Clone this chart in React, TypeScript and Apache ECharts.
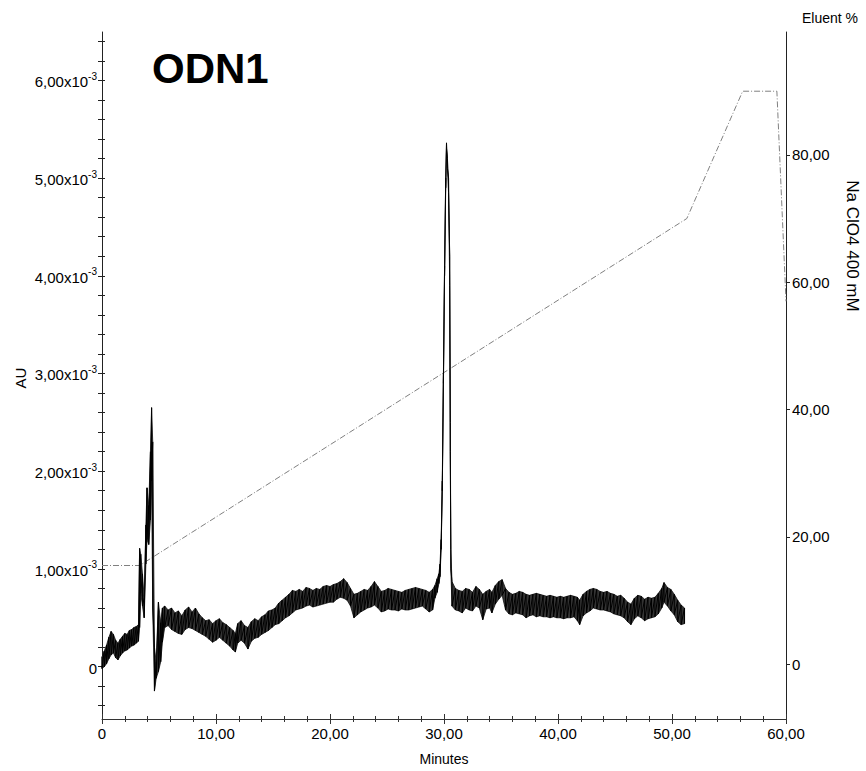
import React, { useEffect, useRef } from "react";
import * as echarts from "echarts";

const FONT = "'Liberation Sans', Arial, sans-serif";

// Absorbance trace: [minutes, upper envelope, lower envelope] in 10^-3 AU
const trace: [number, number, number][] = [
  [0.0, 0.10, -0.02], [0.2, 0.16, 0.0], [0.4, 0.22, 0.03], [0.6, 0.30, 0.08], [0.8, 0.36, 0.12],
  [1.0, 0.33, 0.14], [1.2, 0.27, 0.09], [1.4, 0.24, 0.07], [1.6, 0.28, 0.11], [1.8, 0.31, 0.14],
  [2.0, 0.34, 0.16], [2.2, 0.33, 0.17], [2.4, 0.37, 0.19], [2.6, 0.38, 0.21], [2.8, 0.40, 0.22],
  [3.0, 0.41, 0.24], [3.2, 0.43, 0.26],
  [3.3, 1.21, 0.40], [3.4, 1.15, 0.75], [3.55, 0.95, 0.62], [3.7, 0.70, 0.50], [3.85, 1.45, 1.05],
  [3.95, 1.83, 1.30], [4.1, 1.65, 1.25], [4.25, 2.20, 1.50], [4.35, 2.65, 1.90], [4.45, 2.30, 0.60],
  [4.6, 0.20, -0.25], [4.75, 0.05, -0.12], [4.95, 0.66, -0.05], [5.15, 0.45, 0.05], [5.3, 0.60, 0.25],
  [5.5, 0.62, 0.40], [5.8, 0.58, 0.42], [6.1, 0.60, 0.38], [6.4, 0.55, 0.36], [6.7, 0.57, 0.34],
  [7.0, 0.52, 0.33], [7.3, 0.58, 0.38], [7.6, 0.61, 0.40], [7.9, 0.56, 0.39], [8.2, 0.60, 0.37],
  [8.5, 0.54, 0.35], [8.8, 0.50, 0.33], [9.1, 0.47, 0.31], [9.4, 0.48, 0.28], [9.7, 0.44, 0.25],
  [10.0, 0.47, 0.27], [10.3, 0.49, 0.30], [10.6, 0.45, 0.27], [10.9, 0.43, 0.24], [11.2, 0.40, 0.21],
  [11.5, 0.37, 0.17], [11.7, 0.34, 0.15], [11.9, 0.44, 0.24], [12.2, 0.47, 0.27], [12.5, 0.42, 0.24],
  [12.8, 0.40, 0.18], [13.1, 0.46, 0.26], [13.4, 0.49, 0.29], [13.7, 0.47, 0.30], [14.0, 0.51, 0.33],
  [14.3, 0.53, 0.35], [14.6, 0.57, 0.37], [14.9, 0.58, 0.40], [15.2, 0.60, 0.43], [15.5, 0.65, 0.44],
  [15.8, 0.68, 0.47], [16.1, 0.71, 0.50], [16.4, 0.74, 0.52], [16.7, 0.78, 0.55], [17.0, 0.77, 0.58],
  [17.3, 0.79, 0.59], [17.6, 0.77, 0.60], [17.9, 0.81, 0.62], [18.2, 0.80, 0.63], [18.5, 0.78, 0.61],
  [18.8, 0.80, 0.62], [19.1, 0.79, 0.63], [19.4, 0.82, 0.64], [19.7, 0.83, 0.65], [20.0, 0.82, 0.66],
  [20.3, 0.84, 0.66], [20.6, 0.85, 0.69], [20.9, 0.87, 0.71], [21.2, 0.90, 0.70], [21.5, 0.86, 0.68],
  [21.8, 0.80, 0.62], [22.1, 0.74, 0.50], [22.4, 0.75, 0.53], [22.7, 0.77, 0.56], [23.0, 0.79, 0.58],
  [23.3, 0.78, 0.60], [23.6, 0.82, 0.61], [23.9, 0.87, 0.63], [24.2, 0.82, 0.60], [24.5, 0.77, 0.56],
  [24.8, 0.78, 0.57], [25.1, 0.80, 0.59], [25.4, 0.79, 0.58], [25.7, 0.78, 0.58], [26.0, 0.77, 0.57],
  [26.3, 0.76, 0.59], [26.6, 0.78, 0.58], [26.9, 0.79, 0.58], [27.2, 0.80, 0.59], [27.5, 0.81, 0.60],
  [27.8, 0.80, 0.61], [28.1, 0.79, 0.62], [28.4, 0.78, 0.59], [28.7, 0.76, 0.56], [29.0, 0.79, 0.58],
  [29.2, 0.83, 0.70], [29.4, 0.90, 0.76], [29.55, 0.95, 0.85], [29.65, 1.05, 0.92], [29.75, 1.30, 1.20],
  [29.85, 1.90, 1.80], [29.95, 3.00, 2.90], [30.05, 4.10, 4.00], [30.15, 5.00, 4.90], [30.22, 5.36, 5.30],
  [30.3, 5.20, 5.10], [30.4, 5.00, 4.85], [30.5, 4.20, 3.90], [30.55, 2.50, 2.20], [30.6, 1.20, 1.00],
  [30.7, 0.87, 0.62], [31.0, 0.80, 0.58], [31.3, 0.78, 0.57], [31.6, 0.77, 0.55], [31.9, 0.80, 0.60],
  [32.2, 0.79, 0.58], [32.5, 0.76, 0.57], [32.8, 0.82, 0.62], [33.1, 0.79, 0.60], [33.4, 0.74, 0.48],
  [33.7, 0.77, 0.59], [34.0, 0.79, 0.60], [34.2, 0.76, 0.55], [34.5, 0.83, 0.64], [34.8, 0.87, 0.69],
  [35.1, 0.89, 0.73], [35.4, 0.80, 0.58], [35.7, 0.76, 0.54], [36.0, 0.74, 0.53], [36.3, 0.75, 0.55],
  [36.6, 0.77, 0.54], [36.9, 0.76, 0.53], [37.2, 0.74, 0.50], [37.5, 0.73, 0.52], [37.8, 0.74, 0.53],
  [38.1, 0.75, 0.51], [38.4, 0.74, 0.52], [38.7, 0.73, 0.51], [39.0, 0.72, 0.51], [39.3, 0.73, 0.50],
  [39.6, 0.72, 0.51], [39.9, 0.71, 0.50], [40.2, 0.72, 0.50], [40.5, 0.71, 0.49], [40.8, 0.72, 0.50],
  [41.1, 0.73, 0.50], [41.4, 0.72, 0.51], [41.7, 0.71, 0.47], [41.9, 0.68, 0.43], [42.2, 0.74, 0.52],
  [42.5, 0.77, 0.55], [42.8, 0.79, 0.57], [43.1, 0.80, 0.60], [43.4, 0.79, 0.59], [43.7, 0.77, 0.58],
  [44.0, 0.76, 0.58], [44.3, 0.77, 0.57], [44.6, 0.75, 0.56], [44.9, 0.74, 0.54], [45.2, 0.72, 0.53],
  [45.5, 0.73, 0.52], [45.8, 0.70, 0.50], [46.1, 0.66, 0.46], [46.4, 0.64, 0.43], [46.7, 0.70, 0.49],
  [47.0, 0.73, 0.52], [47.3, 0.72, 0.50], [47.6, 0.69, 0.47], [47.9, 0.71, 0.49], [48.2, 0.70, 0.50],
  [48.5, 0.71, 0.51], [48.8, 0.75, 0.54], [49.1, 0.80, 0.60], [49.3, 0.86, 0.66], [49.6, 0.81, 0.62],
  [49.9, 0.79, 0.57], [50.2, 0.74, 0.53], [50.5, 0.68, 0.46], [50.8, 0.63, 0.43], [51.1, 0.60, 0.44],
];

// Eluent gradient (Na ClO4 400 mM, %)
const gradTime = [0, 3.3, 51.3, 56.2, 59.2, 60];
const gradPct = [15.5, 15.5, 70, 90, 90, 57];

// Axis ticks / labels
const auLabels = [0, 1, 2, 3, 4, 5, 6];
const auTicks = [-0.4, -0.2, 0, 0.2, 0.4, 0.6, 0.8, 1, 1.2, 1.4, 1.6, 1.8, 2, 2.2, 2.4, 2.6, 2.8, 3,
  3.2, 3.4, 3.6, 3.8, 4, 4.2, 4.4, 4.6, 4.8, 5, 5.2, 5.4, 5.6, 5.8, 6, 6.2, 6.4];
const eluentLabels = [0, 20, 40, 60, 80];

const AU_MIN = -0.536;
const AU_MAX = 6.495;
const EL_MIN = -8.61;
const EL_MAX = 99.3;

const comma = (v: number) => (v === 0 ? "0" : v.toFixed(2).replace(".", ","));

export default function App() {
  const ref = useRef<HTMLDivElement>(null);
  useEffect(() => {
    document.body.style.margin = "0";
    const chart = echarts.init(ref.current!, null, { renderer: "svg" });
    const traceData = trace.flatMap(([t, h, l]) => [[t, h], [t, l]]);
    const gradData = gradTime.map((t, i) => [t, gradPct[i]]);
    const labelStyle = { color: "#000", fontFamily: FONT, fontSize: 15 };
    chart.setOption({
      animation: false,
      backgroundColor: "#fff",
      grid: { left: 102, right: 80, top: 32, bottom: 50, containLabel: false },
      xAxis: [
        {
          type: "value", min: 0, max: 60, interval: 10, position: "bottom",
          name: "Minutes", nameLocation: "middle", nameGap: 33,
          nameTextStyle: { color: "#000", fontFamily: FONT, fontSize: 14 },
          axisLine: { show: true, onZero: false, lineStyle: { color: "#333", width: 1 } },
          axisTick: { show: true, length: 5, lineStyle: { color: "#333" } },
          minorTick: { show: true, splitNumber: 5, length: 3, lineStyle: { color: "#333" } },
          axisLabel: { ...labelStyle, margin: 7, formatter: comma },
          splitLine: { show: false },
        },
        {
          type: "value", min: 0, max: 60, interval: 10, position: "bottom",
          axisLine: { show: false, onZero: false },
          axisTick: { show: true, inside: true, length: 5, lineStyle: { color: "#333" } },
          minorTick: { show: true, splitNumber: 5, length: 3, lineStyle: { color: "#333" } },
          axisLabel: { show: false },
          splitLine: { show: false },
        },
      ],
      yAxis: [
        {
          type: "value", min: AU_MIN, max: AU_MAX, position: "left",
          axisLine: { show: true, onZero: false, lineStyle: { color: "#222", width: 1 } },
          axisTick: { show: true, length: 4, customValues: auTicks, lineStyle: { color: "#222" } },
          axisLabel: {
            ...labelStyle, margin: 5, customValues: auLabels,
            formatter: (v: number) =>
              v === 0 ? "{m|0}" : `{m|${v.toFixed(2).replace(".", ",")}x10}{s|-3}`,
            rich: {
              m: { fontSize: 15, fontFamily: FONT, color: "#000", lineHeight: 18, verticalAlign: "bottom" },
              s: { fontSize: 10, fontFamily: FONT, color: "#000", lineHeight: 10, verticalAlign: "top" },
            },
          },
          splitLine: { show: false },
        },
        {
          type: "value", min: EL_MIN, max: EL_MAX, position: "right",
          axisLine: { show: true, onZero: false, lineStyle: { color: "#222", width: 1 } },
          axisTick: { show: true, length: 4, customValues: eluentLabels, lineStyle: { color: "#222" } },
          axisLabel: { ...labelStyle, margin: 6, customValues: eluentLabels, formatter: comma },
          splitLine: { show: false },
        },
        {
          type: "value", min: AU_MIN, max: AU_MAX, position: "left",
          axisLine: { show: false, onZero: false },
          axisTick: { show: true, inside: true, length: 3, customValues: auTicks, lineStyle: { color: "#222" } },
          axisLabel: { show: false },
          splitLine: { show: false },
        },
      ],
      series: [
        {
          type: "line", xAxisIndex: 0, yAxisIndex: 1, data: gradData, symbol: "none",
          lineStyle: { color: "#808080", width: 1, type: [6, 2, 1, 2] }, z: 2,
        },
        {
          type: "custom", xAxisIndex: 0, yAxisIndex: 0, data: [[0, 0]], silent: true, z: 3,
          renderItem: (_p: any, api: any) => {
            const upper = trace.map(([t, h]) => api.coord([t, h]));
            const lower = trace.slice().reverse().map(([t, , l]) => api.coord([t, l]));
            return {
              type: "polygon",
              shape: { points: upper.concat(lower) },
              style: { fill: "#333", stroke: "#111", lineWidth: 0.8 },
            };
          },
        },
        {
          type: "line", xAxisIndex: 0, yAxisIndex: 0, data: traceData, symbol: "none",
          lineStyle: { color: "#000", width: 1 }, z: 4,
        },
      ],
      graphic: [
        {
          type: "text", x: 152, y: 68,
          style: { text: "ODN1", fontSize: 42, fontWeight: "bold", fontFamily: FONT, fill: "#000",
            textAlign: "left", align: "left", textVerticalAlign: "middle", verticalAlign: "middle" },
        },
        {
          type: "text", x: 20, y: 378, rotation: Math.PI / 2,
          style: { text: "AU", fontSize: 15, fontFamily: FONT, fill: "#000",
            textAlign: "center", align: "center", textVerticalAlign: "middle", verticalAlign: "middle" },
        },
        {
          type: "text", x: 830, y: 18,
          style: { text: "Eluent %", fontSize: 14, fontFamily: FONT, fill: "#000",
            textAlign: "center", align: "center", textVerticalAlign: "middle", verticalAlign: "middle" },
        },
        {
          type: "text", x: 852, y: 246, rotation: -Math.PI / 2,
          style: { text: "Na ClO4 400 mM", fontSize: 17, fontFamily: FONT, fill: "#000",
            textAlign: "center", align: "center", textVerticalAlign: "middle", verticalAlign: "middle" },
        },
      ],
    });
    return () => chart.dispose();
  }, []);
  return <div ref={ref} style={{ width: 866, height: 771 }} />;
}
